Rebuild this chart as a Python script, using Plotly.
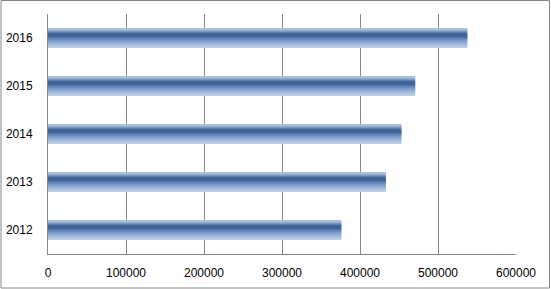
import plotly.graph_objects as go

years = ["2012", "2013", "2014", "2015", "2016"]
values = [376000, 433000, 453000, 470700, 537500]
x_ticks = [0, 100000, 200000, 300000, 400000, 500000, 600000]

# gradient stops, bottom -> top of each bar
grad_colors = [
    "#bccfe7", "#b5c9e4", "#adc3e0", "#a4bcdc", "#9bb4d7", "#91acd2",
    "#86a3cc", "#7b99c5", "#6f8fbe", "#6385b7", "#577bae", "#4d71a6",
    "#44699f", "#3e639a", "#3d6299", "#44699f", "#5a7fb2", "#7896c4",
    "#94aed4", "#a8bfdd",
]

bar_h = 0.40
n = len(grad_colors)
w = bar_h / n

fig = go.Figure()
for i, c in enumerate(grad_colors):
    fig.add_trace(go.Bar(
        y=years, x=values, orientation="h",
        width=w * 1.15, offset=-bar_h / 2 + i * w,
        marker=dict(color=c, line=dict(width=0)),
        showlegend=False, hoverinfo="skip",
    ))

L, R, T, B = 48, 35, 14, 35
W, H = 551, 289
pw, ph = W - L - R, H - T - B

fig.update_layout(
    width=W, height=H,
    margin=dict(l=L, r=R, t=T, b=B, autoexpand=False),
    barmode="overlay",
    paper_bgcolor="white", plot_bgcolor="white",
    font=dict(family="Liberation Sans", size=12, color="#000000"),
    xaxis=dict(
        range=[0, 600000], tickvals=x_ticks, ticktext=[str(v) for v in x_ticks],
        showgrid=True, gridcolor="#868686", gridwidth=1,
        showline=True, linecolor="#868686", linewidth=1,
        zeroline=False, ticks="", ticklabelstandoff=8, fixedrange=True,
        automargin=False,
    ),
    yaxis=dict(
        type="category", categoryorder="array", categoryarray=years,
        range=[-0.5, 4.5], showgrid=False,
        showline=True, linecolor="#868686", linewidth=1,
        ticks="", ticklabelstandoff=12, fixedrange=True,
        automargin=False,
    ),
    shapes=[dict(
        type="rect", xref="paper", yref="paper",
        x0=(1 - L) / pw, x1=(W - 1.5 - L) / pw,
        y0=(T + ph - (H - 1)) / ph, y1=(T + ph - 0.5) / ph,
        line=dict(color="#868686", width=1), fillcolor="rgba(0,0,0,0)",
        layer="below",
    )],
)

fig.write_html("out.html")
